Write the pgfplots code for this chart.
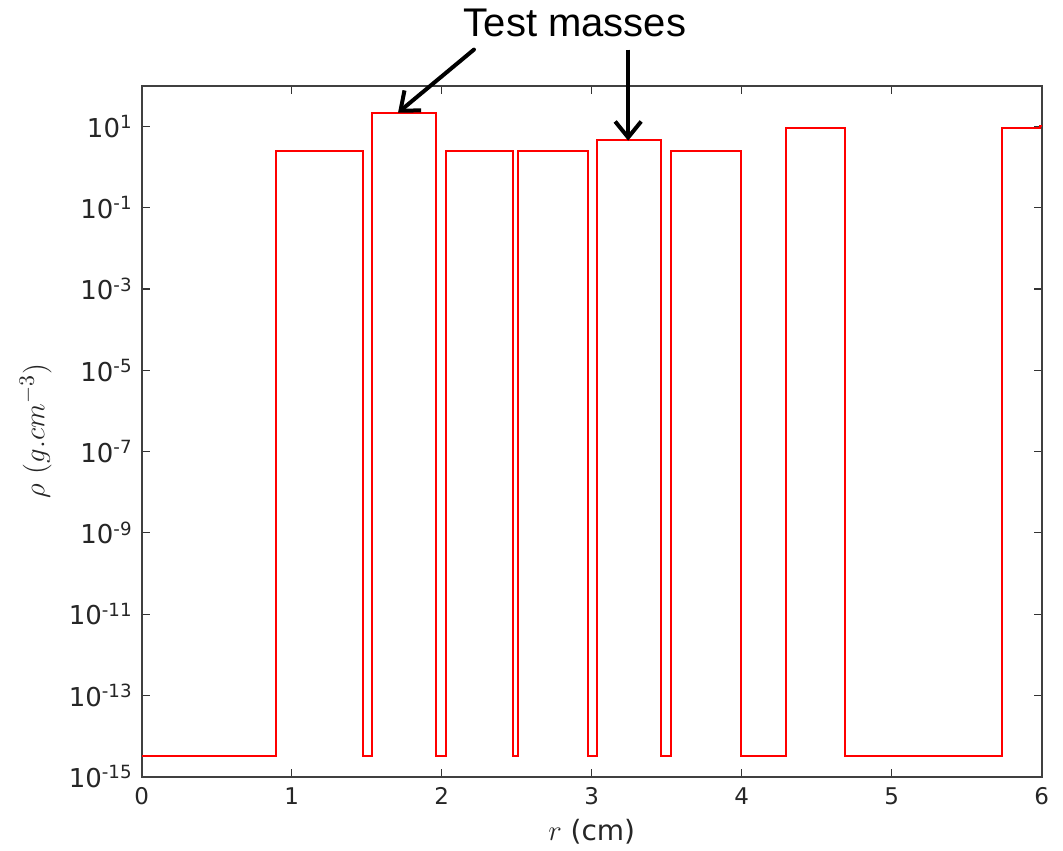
\documentclass[border=0pt]{standalone}
\usepackage[no-math]{fontspec}
\setmainfont{DejaVu Sans}
\newfontfamily\arialfont{Liberation Sans}
\usepackage{pgfplots}
\pgfplotsset{compat=1.18}
\usetikzlibrary{arrows.meta}

\begin{document}
\begin{tikzpicture}
\useasboundingbox (-70.85pt,-36.65pt) rectangle (460.65pt,388.35pt);
\begin{axis}[
  at={(0,0)}, anchor=south west,
  scale only axis, width=450pt, height=345.5pt,
  xmin=0, xmax=6, ymode=log, ymin=1e-15, ymax=100,
  xtick={0,1,2,3,4,5,6},
  ytick={1e-15,1e-13,1e-11,1e-9,1e-7,1e-5,1e-3,1e-1,1e1},
  yticklabels={10\textsuperscript{-15},10\textsuperscript{-13},10\textsuperscript{-11},10\textsuperscript{-9},10\textsuperscript{-7},10\textsuperscript{-5},10\textsuperscript{-3},10\textsuperscript{-1},10\textsuperscript{1}},
  xticklabels={0,1,2,3,4,5,6},
  yminorticks=false, xminorticks=false,
  tick align=inside, tick pos=both,
  major tick length=4pt,
  axis line style={black!75, line width=1pt},
  every tick/.style={black!80, line width=0.6pt},
  xticklabel style={font=\fontsize{11.5}{13}\selectfont, yshift=-2pt, text=black!85},
  yticklabel style={font=\fontsize{13}{15}\selectfont, xshift=-1pt, text=black!85},
  xlabel={$r$ (cm)},
  ylabel={$\rho\ (g.cm^{-3})$},
  xlabel style={font=\fontsize{14}{16}\selectfont, at={(axis description cs:0.5,0)}, anchor=base, yshift=-32pt, text=black!85},
  ylabel style={font=\fontsize{15.5}{17}\selectfont, at={(axis description cs:-0.1178,0.5)}, anchor=center, text=black!85},
  clip=false,
]
\addplot[red, line width=1pt] coordinates {
  (0,3.3e-15) (0.893,3.3e-15) (0.893,2.43) (1.473,2.43) (1.473,3.3e-15)
  (1.533,3.3e-15) (1.533,21.4) (1.962,21.4) (1.962,3.3e-15)
  (2.029,3.3e-15) (2.029,2.43) (2.473,2.43) (2.473,3.3e-15)
  (2.511,3.3e-15) (2.511,2.43) (2.973,2.43) (2.973,3.3e-15)
  (3.033,3.3e-15) (3.033,4.52) (3.46,4.52) (3.46,3.3e-15)
  (3.527,3.3e-15) (3.527,2.43) (3.993,2.43) (3.993,3.3e-15)
  (4.293,3.3e-15) (4.293,8.9) (4.689,8.9) (4.689,3.3e-15)
  (5.737,3.3e-15) (5.737,8.9) (5.99,8.9) (5.99,10) (6,10)
};
\draw[-{Straight Barb[length=8pt,width=13pt,line width=2pt]}, line width=2pt, line cap=round]
  (axis cs:2.215,773) -- (axis cs:1.709,21.7);
\draw[-{Straight Barb[length=8pt,width=13pt,line width=2pt]}, line width=2pt]
  (axis cs:3.243,773) -- (axis cs:3.243,4.45);
\node[font=\arialfont\fontsize{20}{23}\selectfont, anchor=base, yshift=24.5pt]
  at (rel axis cs:0.4814,1) {Test masses};
\end{axis}
\end{tikzpicture}
\end{document}
